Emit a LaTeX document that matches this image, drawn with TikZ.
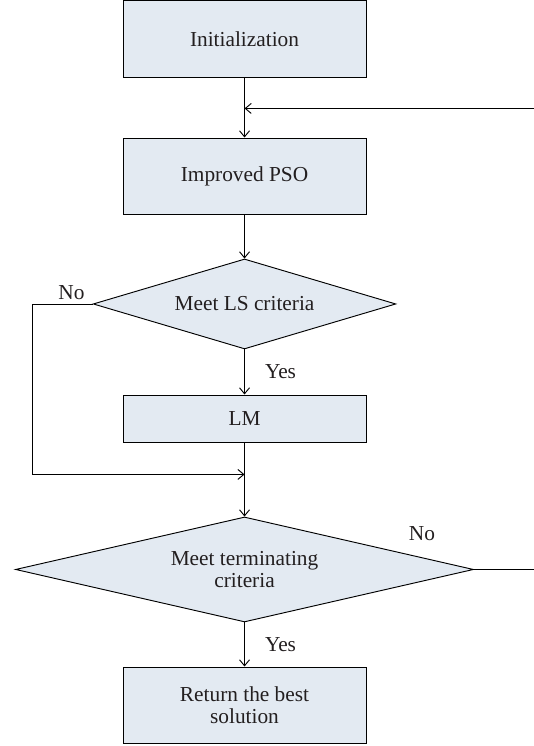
\documentclass[tikz,border=0pt]{standalone}
\usepackage{fontspec}
\setmainfont{Liberation Serif}
\usetikzlibrary{shapes.geometric, arrows.meta, positioning}
\definecolor{boxfill}{HTML}{E3EAF2}
\definecolor{ink}{HTML}{231F20}

\begin{document}
\begin{tikzpicture}[
  node distance=45pt,
  box/.style={rectangle, draw, fill=boxfill, minimum height=57pt, minimum width=182.25pt, align=center, text=ink, line width=0.7pt, font=\fontsize{16}{16.5}\selectfont},
  decision/.style={diamond, draw, fill=boxfill, inner sep=0pt, align=center, text=ink, line width=0.7pt, font=\fontsize{16}{16.5}\selectfont},
  arrow/.style={-{Straight Barb[length=4.5pt, width=7.5pt]}, line width=0.7pt},
  lbl/.style={inner sep=1pt, text=ink, font=\fontsize{16}{16.5}\selectfont}
]
  \useasboundingbox (-183.4pt,29.6pt) rectangle (217.1pt,-529.9pt);

  \node[box, minimum height=57.75pt] (init) at (0,0) {Initialization};
  \node[box, below=44.3pt of init] (pso) {Improved PSO};
  \node[decision, below=33.05pt of pso, minimum width=227pt, minimum height=67.5pt, shape aspect=3.4] (ls) {Meet LS criteria};
  \node[box, below=33.8pt of ls, minimum height=35.25pt] (lm) {LM};
  \node[decision, below=55.55pt of lm, minimum width=343.5pt, minimum height=78.75pt, shape aspect=4.4] (term) {Meet terminating\\criteria};
  \node[box, below=33.05pt of term] (best) {Return the best\\solution};

  \coordinate[below=22.5pt of init] (m1);
  \coordinate[below=24pt of lm] (m2);
  \coordinate[left=45pt of ls] (skip);
  \coordinate (edge) at (222pt,0);

  \draw[arrow] (init) -- (pso);
  \draw[arrow] (pso) -- (ls);
  \draw[arrow] (ls) -- node[lbl, right=14pt] {Yes} (lm);
  \draw[arrow] (lm) -- (term);
  \draw[arrow] (term) -- node[lbl, right=14pt] {Yes} (best);
  \draw[arrow] (ls.west) -- (skip) |- (m2);
  \draw[arrow] (term.east) -- (term.east -| edge) |- (m1);

  \node[lbl, above left=2pt and 5pt of ls.west] (nols) {No};
  \node[lbl, above left=20pt and 28pt of term.east] (noterm) {No};
\end{tikzpicture}
\end{document}
